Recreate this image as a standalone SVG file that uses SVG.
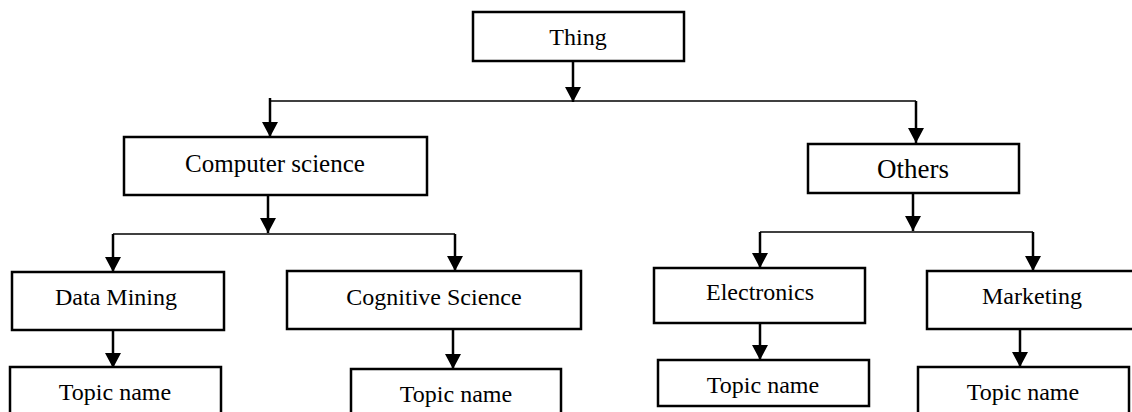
<svg xmlns="http://www.w3.org/2000/svg" width="1132" height="412" viewBox="0 0 1132 412">
<style>
.box{fill:#fff;stroke:#000;stroke-width:2.5}
.t{font-family:'Liberation Serif','Times New Roman',Times,serif;font-size:24px;fill:#000;text-anchor:middle}
.v{stroke:#000;stroke-width:2.5;fill:none}
.h{stroke:#000;stroke-width:1.5;fill:none}
</style>
<defs>
<marker id="ah" markerUnits="userSpaceOnUse" markerWidth="16" markerHeight="16" refX="15" refY="8" orient="auto" viewBox="0 0 16 16">
<path d="M0,0 L15,8 L0,16 Z" fill="#000"/>
</marker>
</defs>
<rect width="1132" height="412" fill="#fff"/>
<g id="connectors">
<line class="v" x1="573" y1="61" x2="573" y2="102" marker-end="url(#ah)"/>
<line class="h" x1="270" y1="101" x2="916" y2="101"/>
<line class="v" x1="270" y1="98" x2="270" y2="137" marker-end="url(#ah)"/>
<line class="v" x1="916" y1="101" x2="916" y2="143" marker-end="url(#ah)"/>
<line class="v" x1="268" y1="195" x2="268" y2="233" marker-end="url(#ah)"/>
<line class="h" x1="113" y1="234" x2="455" y2="234"/>
<line class="v" x1="113" y1="234" x2="113" y2="272" marker-end="url(#ah)"/>
<line class="v" x1="455" y1="234" x2="455" y2="271" marker-end="url(#ah)"/>
<line class="v" x1="113" y1="330" x2="113" y2="368" marker-end="url(#ah)"/>
<line class="v" x1="453" y1="329" x2="453" y2="369" marker-end="url(#ah)"/>
<line class="v" x1="913" y1="193" x2="913" y2="231" marker-end="url(#ah)"/>
<line class="h" x1="760" y1="232" x2="1033" y2="232"/>
<line class="v" x1="760" y1="232" x2="760" y2="268" marker-end="url(#ah)"/>
<line class="v" x1="1033" y1="232" x2="1033" y2="271" marker-end="url(#ah)"/>
<line class="v" x1="760" y1="323" x2="760" y2="360" marker-end="url(#ah)"/>
<line class="v" x1="1020" y1="329" x2="1020" y2="367" marker-end="url(#ah)"/>
</g>
<g id="thing"><rect class="box" x="473" y="12" width="211" height="49"/><text class="t" x="578" y="45">Thing</text></g>
<g id="computer-science"><rect class="box" x="124" y="137" width="303" height="58"/><text class="t" x="275" y="172" style="font-size:25px">Computer science</text></g>
<g id="others"><rect class="box" x="808" y="144" width="211" height="49"/><text class="t" x="913" y="178" style="font-size:27px">Others</text></g>
<g id="data-mining"><rect class="box" x="12" y="272" width="212" height="58"/><text class="t" x="116" y="305">Data Mining</text></g>
<g id="cognitive-science"><rect class="box" x="287" y="271" width="294" height="58"/><text class="t" x="434" y="305">Cognitive Science</text></g>
<g id="electronics"><rect class="box" x="654" y="268" width="211" height="55"/><text class="t" x="760" y="300">Electronics</text></g>
<g id="marketing"><rect class="box" x="927" y="271" width="220" height="58"/><text class="t" x="1032" y="304">Marketing</text></g>
<g id="topic-1"><rect class="box" x="10" y="367" width="211" height="60"/><text class="t" x="115" y="400">Topic name</text></g>
<g id="topic-2"><rect class="box" x="351" y="369" width="210" height="60"/><text class="t" x="456" y="402">Topic name</text></g>
<g id="topic-3"><rect class="box" x="658" y="360" width="211" height="46"/><text class="t" x="763" y="393">Topic name</text></g>
<g id="topic-4"><rect class="box" x="918" y="367" width="211" height="60"/><text class="t" x="1023" y="400">Topic name</text></g>
</svg>
